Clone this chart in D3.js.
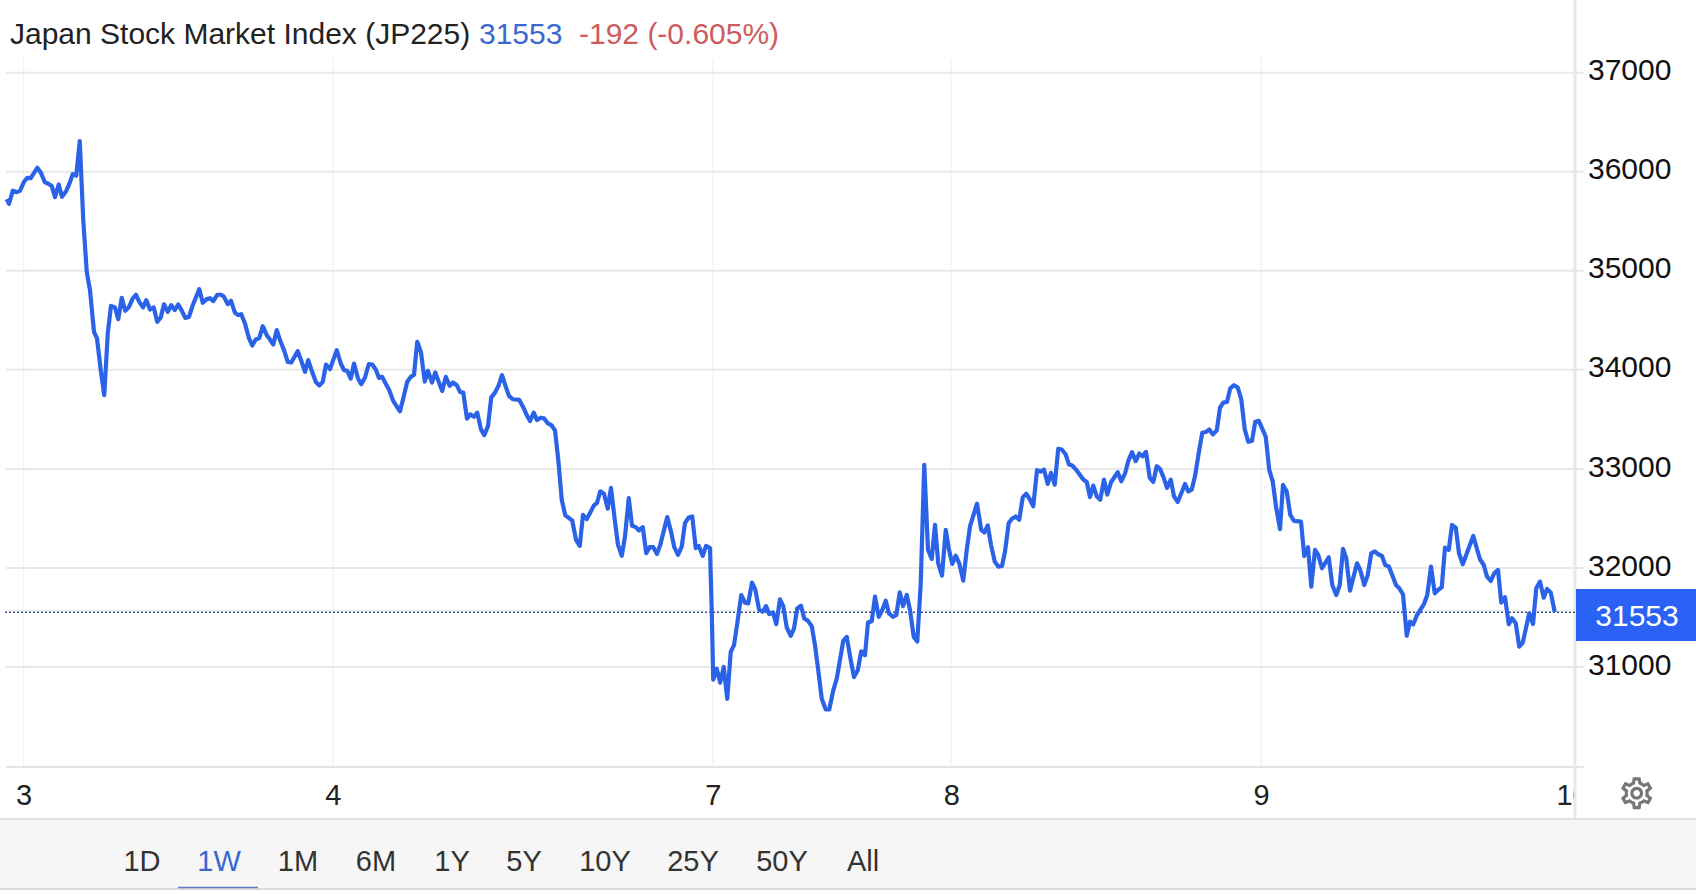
<!DOCTYPE html>
<html>
<head>
<meta charset="utf-8">
<script src="https://cdn.jsdelivr.net/npm/d3@7"></script>
<style>
  body { margin: 0; background: #fff; }
  text { font-family: "Liberation Sans", Arial, sans-serif; }
</style>
</head>
<body>
<div id="chart"></div>
<script>
// series: chart time (minutes along the axis) and index level
var times = [
  -5,4,19,35,48,64,77,91,117,131,147,161,175,188,203,216,231,245,259,273,287,301,315,328,344,356,371,385,399,412,
  428,441,455,469,484,499,512,525,540,553,568,583,597,611,624,639,653,667,681,696,709,724,739,765,779,795,808,821,837,852,
  864,879,892,908,921,933,948,964,977,991,1005,1019,1035,1048,1061,1075,1089,1104,1119,1133,1159,1173,1188,1201,1215,1231,1245,1259,1272,1288,
  1315,1331,1344,1357,1371,1384,1400,1413,1428,1443,1457,1471,1484,1497,1512,1524,1541,1568,1581,1597,1611,1624,1637,
  1652,1667,1680,1696,1709,1724,1737,1751,1767,1780,1795,1808,1821,1836,1849,1864,1877,1892,1905,1920,1933,1948,1963,1976,1991,2004,2019,2045,2060,2075,
  2088,2103,2116,2131,2144,2159,2173,2188,2201,2215,2229,2244,2257,2272,2287,2300,2315,2328,2343,2356,2369,2384,2399,2412,2427,2440,2455,2468,2483,2496,
  2511,2524,2539,2553,2567,2581,2596,2609,2637,2652,2665,2680,2695,2708,2723,2737,2751,2763,2779,2792,2808,
  2815,2821,2835,2849,2863,2877,2891,2904,2917,2933,2948,2961,2976,2989,3004,3019,3032,3045,3060,3073,3088,3101,3115,3131,3144,3157,3172,3185,3200,3215,
  3228,3241,3255,3271,3285,3301,3315,3341,3355,3371,3384,3399,3413,3428,3440,3455,3468,3483,3496,3511,3524,3539,3553,3567,3580,3595,3608,3623,3637,3651,
  3665,3680,3695,3708,3721,3736,3751,3764,3777,3791,3805,3821,3835,3848,3876,3893,3905,3919,3932,3947,3961,3976,3988,4003,4016,4031,4045,4059,4073,4088,
  4101,4116,4131,4144,4159,4172,4187,4201,4215,4231,4244,4257,4272,4301,4315,4328,4341,4355,4369,4384,4397,4412,4439,4453,4468,4481,4496,4511,4525,4539,
  4552,4567,4581,4595,4608,4623,4636,4651,4664,4679,4708,4721,4735,4748,4763,4777,4791,4805,4820,4835,4848,4861,4876,4889,4904,4919,4933,4947,4961,
  4976,4989,5003,5016,5031,
  5045,5059,5072,5088,5100,5115,5129,5144,5172,5185,5200,5213,5228,5241,5256,5283,5297,5313,5327,5340,5353,5368,5396,5409,5425,5439,5453,5467,5481,5496,
  5509,5524,5552,5565,5580,5595,5608,5621,5636,5664,5677,5692,5707,5720,5735,5748,5763,5776,5791,5804,5819,5861,5875,5888,5903,5916,5931,5945,5960,5973,
  5988,6003,6016,6031,6045,6059,6085,6100,6113,6128,6143,6156,6171,6187
];
var levels = [
  35724,35677,35808,35795,35808,35899,35939,35936,36040,35993,35896,35879,35855,35744,35872,35747,35798,35875,35976,35960,36310,35512,34990,34805,34384,34317,33997,33744,34367,34646,
  34630,34512,34727,34596,34636,34721,34758,34687,34630,34704,34609,34630,34485,34529,34663,34586,34653,34603,34660,34593,34525,34535,34653,34815,34677,34714,34724,34694,34758,34758,
  34737,34663,34697,34576,34552,34562,34468,34317,34246,34306,34320,34441,34350,34306,34256,34401,34293,34199,34081,34074,34189,34091,33980,34098,33990,33879,33842,33879,34054,34007,
  34199,34064,33997,33990,33912,34064,33912,33855,33923,34057,34054,34003,33919,33929,33855,33801,33684,33582,33710,33879,33929,33950,34283,
  34176,33882,33990,33872,33973,33872,33787,33929,33838,33872,33845,33777,33770,33507,33551,33527,33568,33399,33341,33432,33720,33770,33845,33946,33831,33737,33703,33696,33628,33544,
  33483,33568,33493,33517,33510,33460,33443,33389,33095,32689,32531,32504,32477,32284,32223,32537,32493,32554,32629,32656,32774,32750,32598,32808,32487,32233,32122,32318,32706,32426,
  32412,32379,32412,32149,32210,32210,32142,32233,32514,32368,32210,32132,32216,32453,32510,32520,32200,32223,32122,32223,32200,
  31558,30872,30983,30842,31000,30679,31152,31220,31439,31727,31649,31642,31852,31784,31581,31558,31615,31534,31551,31433,31683,31615,31399,31314,31389,31591,31619,31490,31466,31412,
  31220,30967,30679,30571,30571,30764,30882,31264,31304,31068,30899,30967,31159,31119,31450,31463,31710,31507,31568,31669,31541,31507,31524,31754,31615,31727,31575,31304,31257,31845,
  33041,32183,32091,32436,32047,31923,32385,32183,32041,32125,32047,31872,32183,32419,32649,32385,32358,32429,32233,32064,32014,32020,32166,32453,32497,32520,32487,32713,32750,32689,
  32622,32987,32973,32993,32848,32960,32841,33203,33196,33145,33044,33034,32993,32892,32868,32716,32831,32723,32689,32892,32740,32865,32966,32875,32953,33078,33169,33078,33155,33128,
  33172,32909,32868,33027,33000,32909,32808,32892,32723,32666,32848,32774,32791,32926,33162,33365,33372,33399,33348,33389,33618,33669,33676,33814,33845,33821,33703,33399,33274,
  33283,33475,33485,33411,33323,
  32990,32872,32620,32391,32838,32771,32535,32475,32468,32121,32209,31811,32182,32131,31997,32108,31828,31727,31828,32192,32098,31771,32047,31980,31828,31929,32148,32168,32138,32121,
  32030,32013,31828,31795,31734,31316,31458,31431,31525,31636,31727,32013,31744,31778,31805,32205,32182,32434,32407,32148,32037,32323,32199,32088,32030,31912,31869,31946,31980,31650,
  31704,31431,31492,31441,31205,31246,31542,31434,31795,31862,31700,31788,31751,31553
];

var dayTicks = [62, 1299, 2819, 3773, 5012, 6256];
var dayLabels = ["3", "4", "7", "8", "9", "10"];
var priceTicks = [31000, 32000, 33000, 34000, 35000, 36000, 37000];
var ranges = ["1D", "1W", "1M", "6M", "1Y", "5Y", "10Y", "25Y", "50Y", "All"];
var rangeCenters = [142, 219, 298, 376, 452, 524, 605, 693, 782, 863];
var lastPrice = 31553;

var width = 1696, height = 894;
var plotRight = 1575, plotBottom = 767;

var svg = d3.select("#chart").append("svg")
    .attr("width", width)
    .attr("height", height)
    .style("display", "block");

var x = d3.scaleLinear().domain([0, 6256]).range([8, 1572]);
var y = d3.scaleLinear().domain([31000, 37000]).range([667, 72.7]);

// labels get cut off at the right edge of the plot, like the "10"
svg.append("clipPath").attr("id", "plotClip")
  .append("rect").attr("x", 0).attr("y", 0).attr("width", plotRight - 1).attr("height", 60);

// vertical grid
svg.append("g").selectAll("line")
  .data(dayTicks.slice(0, 5))
  .join("line")
    .attr("x1", d => x(d)).attr("x2", d => x(d))
    .attr("y1", 58).attr("y2", plotBottom)
    .attr("stroke", "#f3f3f3").attr("stroke-width", 1.5);

// horizontal grid
svg.append("g").selectAll("line")
  .data(priceTicks)
  .join("line")
    .attr("x1", 6).attr("x2", 1584)
    .attr("y1", d => y(d)).attr("y2", d => y(d))
    .attr("stroke", "#e8e8e8").attr("stroke-width", 2);

// axis lines
svg.append("line").attr("x1", 6).attr("x2", 1584).attr("y1", plotBottom).attr("y2", plotBottom)
    .attr("stroke", "#e4e4e4").attr("stroke-width", 2);
svg.append("line").attr("x1", plotRight).attr("x2", plotRight).attr("y1", 0).attr("y2", 818)
    .attr("stroke", "#e8e8e8").attr("stroke-width", 3);

// x axis
var xAxis = svg.append("g")
    .attr("transform", "translate(0," + plotBottom + ")")
    .attr("clip-path", "url(#plotClip)")
    .call(d3.axisBottom(x).tickValues(dayTicks).tickFormat((d, i) => dayLabels[i]).tickSize(0));
xAxis.select(".domain").remove();
xAxis.selectAll("text")
    .attr("y", 38)
    .attr("dy", 0)
    .attr("fill", "#222")
    .style("font-size", "29px")
    .style("font-family", '"Liberation Sans", Arial, sans-serif');

// y axis
var yAxis = svg.append("g")
    .attr("transform", "translate(1588,0)")
    .call(d3.axisRight(y).tickValues(priceTicks).tickFormat(d3.format("d")).tickSize(0));
yAxis.select(".domain").remove();
yAxis.selectAll("text")
    .attr("x", 0)
    .attr("dy", "0.32em")
    .attr("transform", "translate(0,-2.5)")
    .attr("fill", "#111")
    .style("font-size", "30px")
    .style("font-family", '"Liberation Sans", Arial, sans-serif');

// last price line
svg.append("line")
    .attr("x1", 5).attr("x2", plotRight)
    .attr("y1", y(lastPrice)).attr("y2", y(lastPrice))
    .attr("stroke", "#37507a").attr("stroke-width", 1.6)
    .attr("stroke-dasharray", "2,2");

// price line
var line = d3.line().x(d => x(d[0])).y(d => y(d[1]));
svg.append("path")
    .datum(d3.zip(times, levels))
    .attr("d", line)
    .attr("fill", "none")
    .attr("stroke", "#2b63e8")
    .attr("stroke-width", 4.2)
    .attr("stroke-linejoin", "round");

// last price tag
svg.append("rect")
    .attr("x", 1576).attr("y", 589).attr("width", 120).attr("height", 52)
    .attr("fill", "#2962f5");
svg.append("text")
    .attr("x", 1637).attr("y", 626)
    .attr("text-anchor", "middle")
    .attr("fill", "#fff")
    .style("font-size", "30px")
    .text(lastPrice);

// title row
svg.append("text").attr("x", 10).attr("y", 44).attr("fill", "#222").style("font-size", "30px")
    .text("Japan Stock Market Index (JP225)");
svg.append("text").attr("x", 479).attr("y", 44).attr("fill", "#3a68d0").style("font-size", "30px")
    .text(lastPrice);
svg.append("text").attr("x", 579).attr("y", 44).attr("fill", "#cc5c5c").style("font-size", "30px")
    .text("-192 (-0.605%)");

// gear icon
svg.append("path")
    .attr("transform", "translate(1617.5,774) scale(1.6)")
    .attr("fill", "#777")
    .attr("d", "M19.43 12.98c.04-.32.07-.64.07-.98 0-.34-.03-.66-.07-.98l2.11-1.65c.19-.15.24-.42.12-.64l-2-3.46c-.09-.16-.26-.25-.44-.25-.06 0-.12.01-.17.03l-2.49 1c-.52-.4-1.08-.73-1.69-.98l-.38-2.65C14.46 2.18 14.25 2 14 2h-4c-.25 0-.46.18-.49.42l-.38 2.65c-.61.25-1.17.59-1.69.98l-2.49-1c-.06-.02-.12-.03-.18-.03-.17 0-.34.09-.43.25l-2 3.46c-.13.22-.07.49.12.64l2.11 1.65c-.04.32-.07.65-.07.98 0 .33.03.66.07.98l-2.11 1.65c-.19.15-.24.42-.12.64l2 3.46c.09.16.26.25.44.25.06 0 .12-.01.17-.03l2.49-1c.52.4 1.08.73 1.69.98l.38 2.65c.03.24.24.42.49.42h4c.25 0 .46-.18.49-.42l.38-2.65c.61-.25 1.17-.59 1.69-.98l2.49 1c.06.02.12.03.18.03.17 0 .34-.09.43-.25l2-3.46c.12-.22.07-.49-.12-.64l-2.11-1.65zm-1.98-1.71c.04.31.05.52.05.73 0 .21-.02.43-.05.73l-.14 1.13.89.7 1.08.84-.7 1.21-1.27-.51-1.04-.42-.9.68c-.43.32-.84.56-1.25.73l-1.06.43-.16 1.13-.2 1.35h-1.4l-.19-1.35-.16-1.13-1.06-.43c-.43-.18-.83-.41-1.23-.71l-.91-.7-1.06.43-1.27.51-.7-1.21 1.08-.84.89-.7-.14-1.13c-.03-.31-.05-.54-.05-.74s.02-.43.05-.73l.14-1.13-.89-.7-1.08-.84.7-1.21 1.27.51 1.04.42.9-.68c.43-.32.84-.56 1.25-.73l1.06-.43.16-1.13.2-1.35h1.39l.19 1.35.16 1.13 1.06.43c.43.18.83.41 1.23.71l.91.7 1.06-.43 1.27-.51.7 1.21-1.07.85-.89.7.14 1.13zM12 8c-2.21 0-4 1.79-4 4s1.79 4 4 4 4-1.79 4-4-1.79-4-4-4zm0 6c-1.1 0-2-.9-2-2s.9-2 2-2 2 .9 2 2-.9 2-2 2z");

// range bar
svg.append("rect").attr("x", 0).attr("y", 819).attr("width", width).attr("height", 70).attr("fill", "#f6f6f6");
svg.append("line").attr("x1", 0).attr("x2", width).attr("y1", 819).attr("y2", 819)
    .attr("stroke", "#e2e2e2").attr("stroke-width", 2);
svg.append("line").attr("x1", 0).attr("x2", width).attr("y1", 889).attr("y2", 889)
    .attr("stroke", "#dcdcdc").attr("stroke-width", 2);
svg.append("g").selectAll("text")
  .data(ranges)
  .join("text")
    .attr("x", (d, i) => rangeCenters[i])
    .attr("y", 871)
    .attr("text-anchor", "middle")
    .attr("fill", d => d == "1W" ? "#3a68d0" : "#333")
    .style("font-size", "29px")
    .text(d => d);
svg.append("line").attr("x1", 178).attr("x2", 258).attr("y1", 887.5).attr("y2", 887.5)
    .attr("stroke", "#5b7fc0").attr("stroke-width", 1.5);
</script>
</body>
</html>
